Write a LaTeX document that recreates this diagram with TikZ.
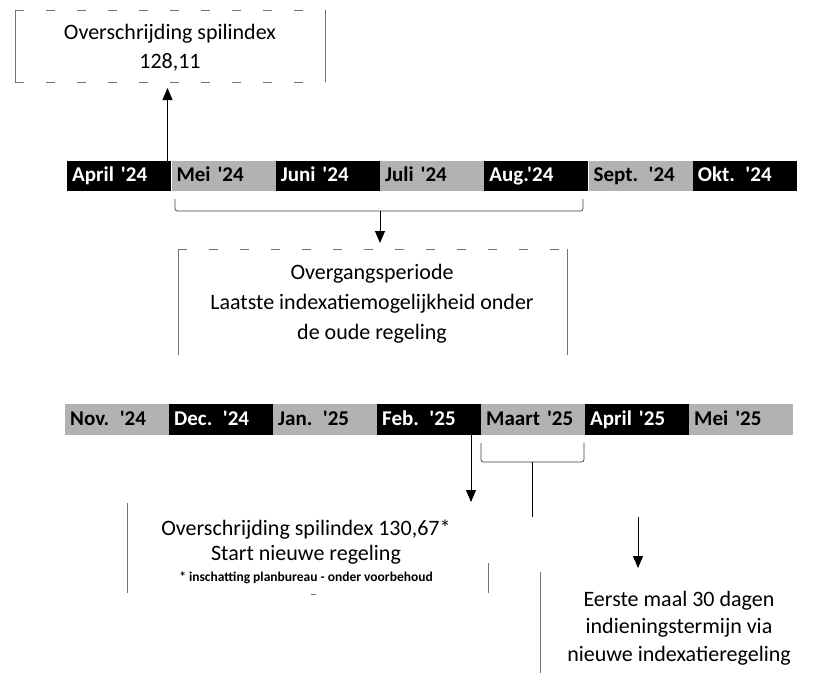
\documentclass[tikz,border=0pt]{standalone}
\usepackage{fontspec}
\setmainfont{Carlito}[Ligatures=TeXOff]
\usetikzlibrary{arrows.meta}
\begin{document}
\begin{tikzpicture}[x=1pt,y=-1pt,
  cell/.style={anchor=north west, inner xsep=5pt, inner ysep=0pt, text width=94pt, align=left,
    minimum height=30pt, text height=15pt, text depth=4pt, font=\fontsize{21}{24}\selectfont\bfseries},
  cellk/.style={cell, fill=black, text=white},
  cellg/.style={cell, fill=black!30, text=black},
  cellb/.style={cell, minimum height=31pt, text width=94pt},
  txt/.style={align=center, inner sep=0pt, font=\fontsize{22}{30}\selectfont},
  frame/.style={draw=black!55, line width=0.6pt},
  dframe/.style={draw=black!55, line width=0.6pt, dash pattern=on 9pt off 22pt},
  link/.style={draw=black, line width=0.9pt},
  arr/.style={link, -{Triangle[length=12pt,width=10pt]}},
  brk/.style={draw=black!75, line width=0.7pt, rounded corners=2.5pt},
]
\useasboundingbox[fill=white] (0,0) rectangle (821,673);

% ---------- top bar ----------
\node[cellk] (t1) at (67,161)    {April '24};
\node[cellg] (t2) at (171.3,161) {Mei '24};
\node[cellk] (t3) at (275.6,161) {Juni '24};
\node[cellg] (t4) at (379.9,161) {Juli '24};
\node[cellk] (t5) at (484.1,161) {Aug.'24};
\node[cellg] (t6) at (588.4,161) {Sept. '24};
\node[cellk] (t7) at (692.7,161) {Okt. '24};

% ---------- bottom bar ----------
\node[cellg, cellb] (b1) at (65,404)  {Nov. '24};
\node[cellk, cellb] (b2) at (169,404) {Dec. '24};
\node[cellg, cellb] (b3) at (273,404) {Jan. '25};
\node[cellk, cellb] (b4) at (377,404) {Feb. '25};
\node[cellg, cellb] (b5) at (481,404) {Maart '25};
\node[cellk, cellb] (b6) at (585,404) {April '25};
\node[cellg, cellb] (b7) at (689,404) {Mei '25};

% ---------- text boxes ----------
\node[txt, font=\fontsize{22}{29}\selectfont] (box1) at (170,48) {Overschrijding spilindex\\128,11};
\coordinate (box1nw) at (15,10);
\coordinate (box1se) at (325,82);
\draw[frame] (box1nw) -- (box1nw |- box1se);
\draw[frame] (box1se) -- (box1se |- box1nw);
\draw[dframe] (box1nw) -- (box1nw -| box1se);
\draw[dframe] (box1nw |- box1se) -- (box1se);

\node[txt] (box2) at (372,304) {Overgangsperiode\\Laatste indexatiemogelijkheid onder\\de oude regeling};
\coordinate (box2nw) at (178,249);
\coordinate (box2se) at (567,355);
\draw[frame] (box2nw) -- (box2nw |- box2se);
\draw[frame] (box2se) -- (box2se |- box2nw);
\draw[dframe] (box2nw) -- (box2nw -| box2se);

\node[txt, font=\fontsize{22}{25}\selectfont] (box3) at (306,552)
  {Overschrijding spilindex 130,67*\\Start nieuwe regeling\\[-4pt]
   {\fontsize{13.5}{15}\selectfont\bfseries * inschatting planbureau - onder voorbehoud}};
\coordinate (box3nw) at (127,503);
\coordinate (box3se) at (488,593);
\draw[frame] (box3nw) -- (box3nw |- box3se);
\draw[frame] (box3se) -- ++(0,-30);
\draw[frame] (311,594) -- (316,594);

\node[txt, font=\fontsize{22}{27.5}\selectfont] (box4) at (679,628)
  {Eerste maal 30 dagen\\indieningstermijn via\\nieuwe indexatieregeling};
\coordinate (box4nw) at (540,572);
\draw[frame] (box4nw) -- (540,673);

% ---------- connectors ----------
\coordinate (a1s) at (167.5,161);
\coordinate (a1e) at (167.5,88);
\draw[arr] (a1s) -- (a1e);

\coordinate (br1a) at (175,199);
\coordinate (br1b) at (583,199);
\draw[brk] (br1a) -- (175,211) -- (583,211) -- (br1b);
\coordinate (br1m) at (380,211);
\coordinate (a2e) at (380,243);
\draw[arr] (br1m) -- (a2e);

\coordinate (a3s) at (471,435);
\coordinate (a3e) at (471,502);
\draw[arr] (a3s) -- (a3e);

\coordinate (br2a) at (481,443);
\coordinate (br2b) at (584,443);
\draw[brk] (br2a) -- (481,462) -- (584,462) -- (br2b);
\coordinate (br2m) at (532,462);
\coordinate (l4e) at (532,517);
\draw[link] (br2m) -- (l4e);

\coordinate (a5s) at (638,517);
\coordinate (a5e) at (638,568);
\draw[arr] (a5s) -- (a5e);
\end{tikzpicture}
\end{document}
